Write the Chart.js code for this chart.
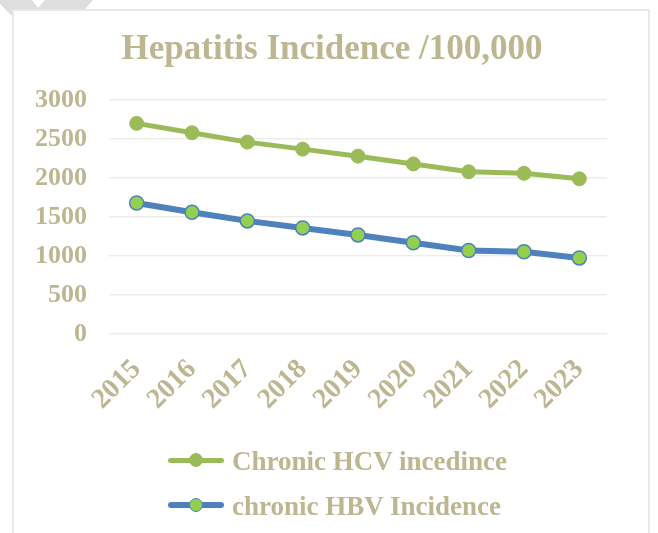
<!DOCTYPE html>
<html>
<head>
<meta charset="utf-8">
<script src="https://cdn.jsdelivr.net/npm/chart.js@4/dist/chart.umd.min.js"></script>
<style>
  html, body { margin: 0; padding: 0; background: #fff; }
  body { width: 658px; height: 533px; position: relative; overflow: hidden; }
  #mark { position: absolute; left: 0; top: 0; width: 100px; height: 50px; background: #dedede;
          clip-path: polygon(0 4px, 0 0, 32px 0, 38px 8px, 45px 0, 93px 0, 55px 45px, 41px 45px); }
  #frame { position: absolute; left: 12px; top: 9px; width: 638px; height: 560px;
           border: 2px solid #eae8e0; box-sizing: border-box; background: #fff; }
  #wrap { position: absolute; left: 0; top: 0; width: 658px; height: 533px; }
  #legend { position: absolute; left: 168px; top: 446px; }
  .item { position: relative; height: 28px; margin-bottom: 17px; white-space: nowrap; }
  .icon { position: absolute; left: 0; top: 0; width: 56px; height: 28px; }
  .icon .ln { position: absolute; left: 0; width: 56px; border-radius: 3px; }
  .icon .dot { position: absolute; border-radius: 50%; box-sizing: border-box; }
  .txt { position: absolute; left: 64px; top: 0; line-height: 28px;
         font: bold 27px "Liberation Serif", serif; color: #bdb791; }
</style>
</head>
<body>
<div id="mark"></div>
<div id="frame"></div>
<div id="wrap"><canvas id="c" width="658" height="533"></canvas></div>
<div id="legend"></div>
<script>
// Years on the horizontal axis
const years = ['2015', '2016', '2017', '2018', '2019', '2020', '2021', '2022', '2023'];
// Incidence per 100,000
const hcvIncidence = [2700, 2580, 2460, 2370, 2280, 2180, 2080, 2060, 1990];
const hbvIncidence = [1680, 1560, 1450, 1360, 1270, 1170, 1070, 1055, 975];
// Vertical axis ticks
const yTicks = [0, 500, 1000, 1500, 2000, 2500, 3000];

const textColor = '#bdb791';
const serif = '"Liberation Serif", serif';

const datasets = [
  {
    label: 'Chronic HCV incedince',
    data: hcvIncidence,
    borderColor: '#9bbb59',
    backgroundColor: '#9bbb59',
    borderWidth: 5,
    pointRadius: 7,
    pointBorderWidth: 1,
    pointBackgroundColor: '#9bbb59',
    pointBorderColor: '#9bbb59',
    tension: 0
  },
  {
    label: 'chronic HBV Incidence',
    data: hbvIncidence,
    borderColor: '#4f81bd',
    backgroundColor: '#92d050',
    borderWidth: 6,
    pointRadius: 7,
    pointBorderWidth: 1.5,
    pointBackgroundColor: '#92d050',
    pointBorderColor: '#4f81bd',
    tension: 0
  }
];

const chart = new Chart(document.getElementById('c'), {
  type: 'line',
  data: { labels: years, datasets: datasets },
  options: {
    responsive: false,
    animation: false,
    events: [],
    layout: { padding: { left: 6, right: 0, top: 0, bottom: 109 } },
    plugins: {
      legend: { display: false },
      tooltip: { enabled: false },
      title: {
        display: true,
        text: 'Hepatitis Incidence /100,000',
        color: textColor,
        font: { family: serif, size: 35, weight: 'bold', lineHeight: 1.2 },
        padding: { top: 29, bottom: 29 }
      }
    },
    scales: {
      x: {
        offset: true,
        grid: { display: false, drawTicks: false },
        border: { display: false },
        ticks: {
          color: textColor,
          font: { family: serif, size: 28, weight: 'bold' },
          minRotation: 45,
          maxRotation: 45,
          padding: 19,
          autoSkip: false
        },
        afterFit: s => { s.height = 90; }
      },
      y: {
        min: 0,
        max: 3000,
        afterBuildTicks: s => { s.ticks = yTicks.map(v => ({ value: v })); },
        grid: { color: '#eeede5', lineWidth: 1.5, drawTicks: false },
        border: { display: false },
        ticks: {
          color: textColor,
          font: { family: serif, size: 26, weight: 'bold' },
          padding: 22,
          callback: v => String(v)
        },
        afterFit: s => { s.width = 103; }
      },
      // empty margin on the right of the plot
      yRight: {
        position: 'right',
        min: 0,
        max: 3000,
        grid: { display: false, drawTicks: false },
        border: { display: false },
        ticks: { display: false },
        afterFit: s => { s.width = 51; }
      }
    }
  }
});

// Legend built from the chart's datasets, one entry per row
const legendEl = document.getElementById('legend');
chart.data.datasets.forEach(ds => {
  const item = document.createElement('div');
  item.className = 'item';
  const icon = document.createElement('div');
  icon.className = 'icon';
  const ln = document.createElement('div');
  ln.className = 'ln';
  ln.style.height = ds.borderWidth + 'px';
  ln.style.top = (14 - ds.borderWidth / 2) + 'px';
  ln.style.background = ds.borderColor;
  const dot = document.createElement('div');
  dot.className = 'dot';
  const d = ds.pointRadius * 2;
  dot.style.width = d + 'px';
  dot.style.height = d + 'px';
  dot.style.left = (28 - ds.pointRadius) + 'px';
  dot.style.top = (14 - ds.pointRadius) + 'px';
  dot.style.background = ds.pointBackgroundColor;
  dot.style.border = ds.pointBorderWidth + 'px solid ' + ds.pointBorderColor;
  icon.appendChild(ln);
  icon.appendChild(dot);
  const txt = document.createElement('span');
  txt.className = 'txt';
  txt.textContent = ds.label;
  item.appendChild(icon);
  item.appendChild(txt);
  legendEl.appendChild(item);
});
</script>
</body>
</html>
